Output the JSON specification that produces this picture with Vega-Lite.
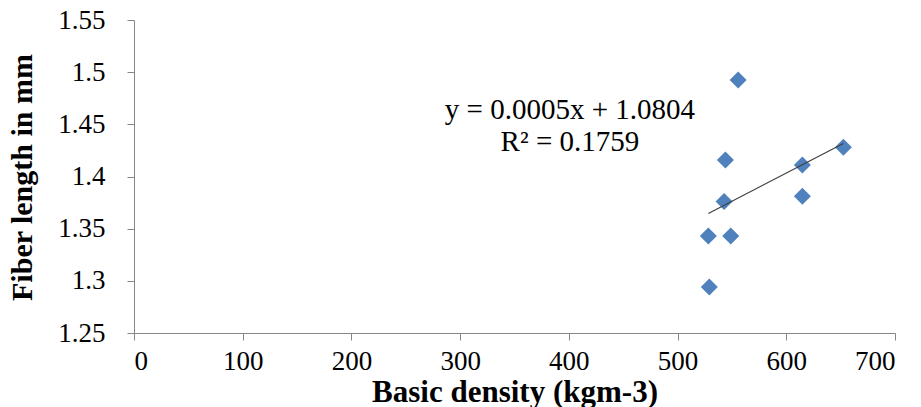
{
  "$schema": "https://vega.github.io/schema/vega-lite/v6.json",
  "width": 761,
  "height": 313,
  "autosize": {"type": "none"},
  "padding": {"left": 134, "top": 20, "right": 26, "bottom": 74},
  "background": "white",
  "config": {
    "view": {"stroke": null},
    "font": "Liberation Serif",
    "axis": {
      "grid": false,
      "domainColor": "#868686",
      "tickColor": "#868686",
      "labelColor": "#000000",
      "labelFont": "Liberation Serif",
      "labelFontSize": 27,
      "titleFont": "Liberation Serif",
      "titleFontWeight": "bold",
      "titleColor": "#000000",
      "tickSize": 7
    }
  },
  "datasets": {
    "pts": [
      {"density": 555.7, "fiber": 1.4925},
      {"density": 544.0, "fiber": 1.4158},
      {"density": 652.5, "fiber": 1.428},
      {"density": 614.8, "fiber": 1.411},
      {"density": 614.8, "fiber": 1.381},
      {"density": 542.8, "fiber": 1.376},
      {"density": 528.3, "fiber": 1.343},
      {"density": 548.9, "fiber": 1.343},
      {"density": 529.2, "fiber": 1.294}
    ],
    "eq": [
      {"density": 401, "fiber": 1.4635, "label": "y = 0.0005x + 1.0804"},
      {"density": 401, "fiber": 1.4335, "label": "R² = 0.1759"}
    ]
  },
  "layer": [
    {
      "data": {"name": "pts"},
      "mark": {"type": "point", "shape": "diamond", "filled": true, "size": 290, "color": "#4F81BD", "opacity": 1, "strokeWidth": 0},
      "encoding": {
        "x": {
          "field": "density", "type": "quantitative",
          "scale": {"domain": [0, 700], "nice": false, "zero": false},
          "axis": {
            "values": [0, 100, 200, 300, 400, 500, 600, 700],
            "labelPadding": 8,
            "title": "Basic density (kgm-3)",
            "titleFontSize": 31,
            "titleY": 68,
            "titleBaseline": "alphabetic"
          }
        },
        "y": {
          "field": "fiber", "type": "quantitative",
          "scale": {"domain": [1.25, 1.55], "nice": false, "zero": false},
          "axis": {
            "values": [1.25, 1.3, 1.35, 1.4, 1.45, 1.5, 1.55],
            "format": ".3~f",
            "labelPadding": 22,
            "title": "Fiber length in mm",
            "titleFontSize": 30,
            "titleAngle": -90,
            "titleX": -112,
            "titleY": 157,
            "titleAlign": "center",
            "titleBaseline": "middle"
          }
        }
      }
    },
    {
      "data": {"name": "pts"},
      "transform": [{"regression": "fiber", "on": "density"}],
      "mark": {"type": "line", "color": "#404040", "strokeWidth": 1.2},
      "encoding": {
        "x": {"field": "density", "type": "quantitative"},
        "y": {"field": "fiber", "type": "quantitative"}
      }
    },
    {
      "data": {"name": "eq"},
      "mark": {"type": "text", "font": "Liberation Serif", "fontSize": 29, "align": "center", "baseline": "middle", "color": "#000000"},
      "encoding": {
        "x": {"field": "density", "type": "quantitative"},
        "y": {"field": "fiber", "type": "quantitative"},
        "text": {"field": "label"}
      }
    }
  ]
}
